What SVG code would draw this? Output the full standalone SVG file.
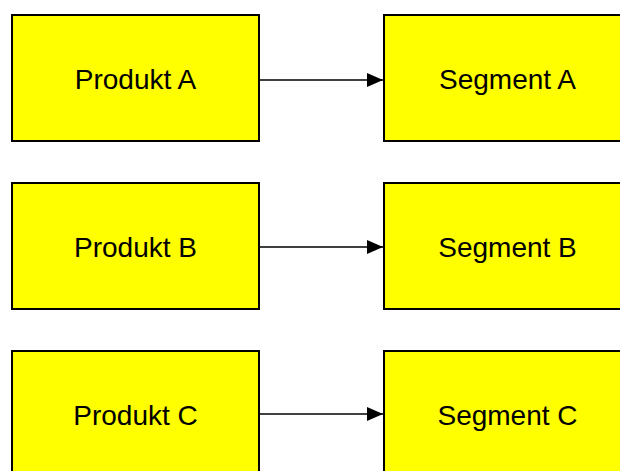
<svg xmlns="http://www.w3.org/2000/svg" width="620" height="471" viewBox="0 0 620 471">
  <style>
    .box { fill: #ffff00; stroke: #000000; stroke-width: 2; }
    .label { font-family: "Liberation Sans", Arial, sans-serif; font-size: 28px; fill: #000000; text-anchor: middle; }
    .conn { stroke: #000000; stroke-width: 1.6; fill: none; }
  </style>
  <defs>
    <marker id="arrow" markerWidth="16" markerHeight="14" refX="16" refY="7" orient="auto" markerUnits="userSpaceOnUse">
      <path d="M0,0 L16,7 L0,14 Z" fill="#000000"/>
    </marker>
  </defs>

  <g id="produkt-a">
    <rect class="box" x="12" y="15" width="247" height="126"/>
    <text class="label" x="135.5" y="89">Produkt A</text>
  </g>
  <g id="segment-a">
    <rect class="box" x="384" y="15" width="247" height="126"/>
    <text class="label" x="507.5" y="89">Segment A</text>
  </g>

  <g id="produkt-b">
    <rect class="box" x="12" y="183" width="247" height="126"/>
    <text class="label" x="135.5" y="257">Produkt B</text>
  </g>
  <g id="segment-b">
    <rect class="box" x="384" y="183" width="247" height="126"/>
    <text class="label" x="507.5" y="257">Segment B</text>
  </g>

  <g id="produkt-c">
    <rect class="box" x="12" y="351" width="247" height="126"/>
    <text class="label" x="135.5" y="425">Produkt C</text>
  </g>
  <g id="segment-c">
    <rect class="box" x="384" y="351" width="247" height="126"/>
    <text class="label" x="507.5" y="425">Segment C</text>
  </g>

  <g id="connectors">
    <line class="conn" x1="260" y1="80" x2="383" y2="80" marker-end="url(#arrow)"/>
    <line class="conn" x1="260" y1="247" x2="383" y2="247" marker-end="url(#arrow)"/>
    <line class="conn" x1="260" y1="414" x2="383" y2="414" marker-end="url(#arrow)"/>
  </g>
</svg>
